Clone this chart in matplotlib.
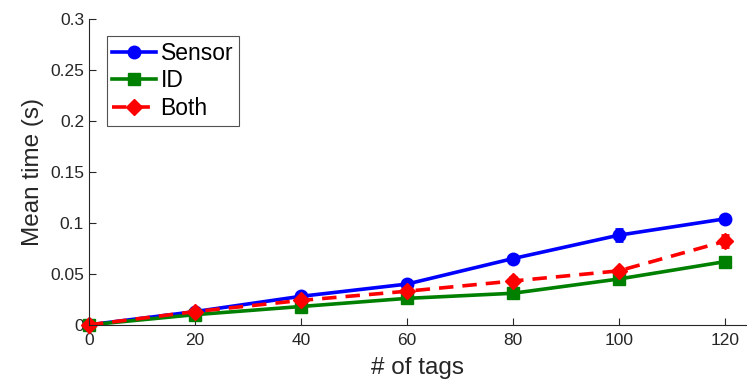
import matplotlib
matplotlib.use("Agg")
import matplotlib.pyplot as plt

plt.rcParams['font.family'] = ['Liberation Sans', 'DejaVu Sans']

tags = [0, 20, 40, 60, 80, 100, 120]
sensor = [0.0, 0.013, 0.028, 0.040, 0.065, 0.088, 0.104]
sensor_err = [0.0, 0.001, 0.002, 0.002, 0.002, 0.006, 0.003]
id_only = [0.0, 0.010, 0.018, 0.026, 0.031, 0.045, 0.062]
id_err = [0.0, 0.001, 0.001, 0.001, 0.001, 0.002, 0.002]
both = [0.0, 0.013, 0.024, 0.033, 0.043, 0.053, 0.082]
both_err = [0.0, 0.002, 0.002, 0.003, 0.004, 0.003, 0.006]

yticks = [0, 0.05, 0.1, 0.15, 0.2, 0.25, 0.3]
ytick_labels = ['0', '0.05', '0.1', '0.15', '0.2', '0.25', '0.3']

fig = plt.figure(figsize=(7.47, 3.90), dpi=100)
ax = fig.add_axes([0.119, 0.167, 0.881, 0.784])

kw = dict(linewidth=2.6, capsize=3, elinewidth=2, capthick=2)
c1 = ax.errorbar(tags, sensor, yerr=sensor_err, color='#0000ff', marker='o',
                 markersize=9, label='Sensor', **kw)
c2 = ax.errorbar(tags, id_only, yerr=id_err, color='#008000', marker='s',
                 markersize=8, label='ID', **kw)
c3 = ax.errorbar(tags, both, yerr=both_err, color='#ff0000', marker='D',
                 markersize=8, linestyle=(0, (4, 2.5)), label='Both', **kw)
# let the markers at x=0 sit over the axis instead of being cut
for c in (c1, c2, c3):
    c[0].set_clip_on(False)

ax.set_xlim(0, 124.2)
ax.set_ylim(0, 0.3)
ax.set_xticks(tags)
ax.set_yticks(yticks)
ax.set_yticklabels(ytick_labels)
ax.spines['top'].set_visible(False)
ax.spines['right'].set_visible(False)
for s in ('left', 'bottom'):
    ax.spines[s].set_color('#262626')
    ax.spines[s].set_linewidth(0.8)
ax.tick_params(direction='in', length=5, colors='#262626', labelsize=12.5,
               width=0.8)
ax.tick_params(axis='x', pad=6)
ax.set_xlabel('# of tags', fontsize=17.5, color='#262626', labelpad=6)
ax.set_ylabel('Mean time (s)', fontsize=17.5, color='#262626', labelpad=4)

# legend shows plain line + marker, no error bars
handles = [c[0] for c in (c1, c2, c3)]
leg = ax.legend(handles, ['Sensor', 'ID', 'Both'], loc='upper left',
                bbox_to_anchor=(0.027, 0.945), fontsize=16.5,
                frameon=True, fancybox=False, edgecolor='#262626',
                handlelength=1.9, handletextpad=0.2, borderpad=0.25,
                labelspacing=0.2, borderaxespad=0, numpoints=1)
leg.get_frame().set_linewidth(0.8)

fig.savefig('out.png', dpi=100)
